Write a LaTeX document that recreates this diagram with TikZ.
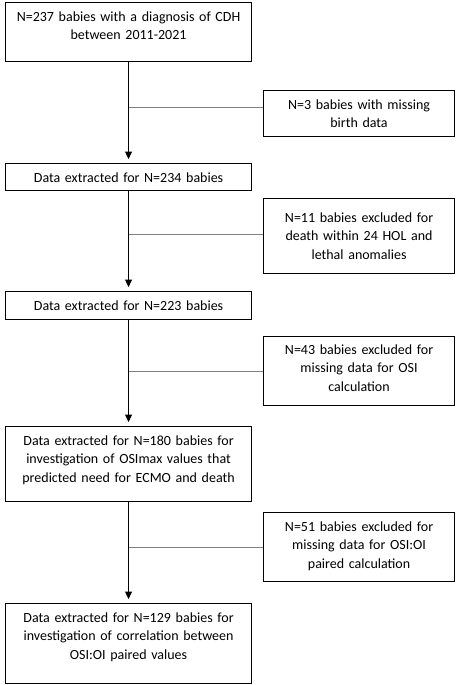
\documentclass[tikz,border=0pt]{standalone}
\usepackage{fontspec}
\setmainfont{Carlito}
\usetikzlibrary{arrows.meta,positioning}
\definecolor{inkgray}{HTML}{808080}

\begin{document}
\begin{tikzpicture}[x=1pt, y=1pt, >={Triangle[length=7.5pt,width=7pt]},
  flowbox/.style={draw, line width=1.1pt, anchor=north west, align=center, text width=246pt,
    inner xsep=0pt, inner ysep=0pt, text height=18.5pt, font=\fontsize{14}{18.7}\selectfont},
  exclbox/.style={flowbox, text width=191pt},
  arrow/.style={->, line width=1.1pt, shorten >=4pt},
  sideline/.style={line width=1.1pt, draw=inkgray}]
\useasboundingbox (0,0) rectangle (455,-685);
\node[flowbox, text depth=40.5pt] (all) at (5,-2)   {N=237 babies with a diagnosis of CDH\\between 2011-2021};
\node[exclbox, text depth=27.5pt] (xbirth) at (263,-90) {N=3 babies with missing\\birth data};
\node[flowbox, text depth=8.5pt]  (d234) at (5,-163) {Data extracted for N=234 babies};
\node[exclbox, text height=23.5pt, text depth=51.5pt] (xdeath) at (263,-198) {N=11 babies excluded for\\death within 24 HOL and\\lethal anomalies};
\node[flowbox, text depth=9.5pt]  (d223) at (5,-291) {Data extracted for N=223 babies};
\node[exclbox, text height=17.5pt, text depth=51.5pt] (xosi) at (263,-336) {N=43 babies excluded for\\missing data for OSI\\calculation};
\node[flowbox, text depth=56.5pt] (d180) at (5,-426) {Data extracted for N=180 babies for\\investigation of OSImax values that\\predicted need for ECMO and death};
\node[exclbox, text depth=50.5pt] (xpair) at (263,-512) {N=51 babies excluded for\\missing data for OSI:OI\\paired calculation};
\node[flowbox, text depth=61.5pt] (d129) at (5,-603) {Data extracted for N=129 babies for\\investigation of correlation between\\OSI:OI paired values};
% main flow
\draw[arrow] (all) -- (d234); \draw[arrow] (d234) -- (d223);
\draw[arrow] (d223) -- (d180); \draw[arrow] (d180) -- (d129);
% exclusions
\draw[sideline] ([yshift=6pt]xbirth.west) -- ([yshift=6pt]xbirth.west -| all.south);
\draw[sideline] ([yshift=1.5pt]xdeath.west) -- ([yshift=1.5pt]xdeath.west -| d234.south);
\draw[sideline] (xosi.west) -- (xosi.west -| d223.south);
\draw[sideline] (xpair.west) -- (xpair.west -| d180.south);
\end{tikzpicture}
\end{document}
